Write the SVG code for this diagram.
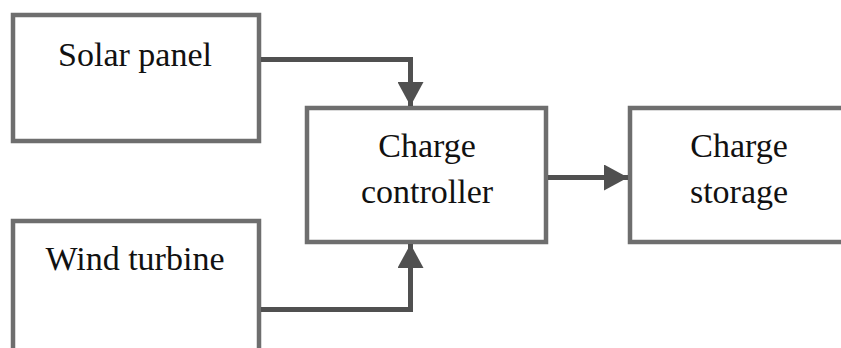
<svg xmlns="http://www.w3.org/2000/svg" width="841" height="348" viewBox="0 0 841 348">
<style>
.box{fill:#fff;stroke:#6e6e6e;stroke-width:4.5}
.lbl{font-family:"Liberation Serif","Times New Roman",serif;font-size:34px;fill:#111;text-anchor:middle}
.wire{fill:none;stroke:#505050;stroke-width:5}
</style>
<defs>
<marker id="ah" markerUnits="userSpaceOnUse" markerWidth="26" markerHeight="26" viewBox="0 0 26 26" refX="24" refY="13" orient="auto">
<path d="M0,0 L24,13 L0,26 Z" fill="#505050"/>
</marker>
</defs>
<rect width="841" height="348" fill="#fff"/>
<g id="solar">
<rect class="box" x="13" y="15" width="246" height="126"/>
<text class="lbl" x="135" y="66">Solar panel</text>
</g>
<g id="wind">
<rect class="box" x="13" y="221" width="246" height="140"/>
<text class="lbl" x="135" y="270">Wind turbine</text>
</g>
<g id="controller">
<rect class="box" x="307" y="108" width="239" height="134"/>
<text class="lbl" x="427" y="157">Charge</text>
<text class="lbl" x="427" y="203">controller</text>
</g>
<g id="storage">
<rect class="box" x="630" y="108" width="230" height="134"/>
<text class="lbl" x="739" y="157">Charge</text>
<text class="lbl" x="739" y="203">storage</text>
</g>
<g id="connectors">
<path class="wire" d="M261,59.5 H410.5 V106" marker-end="url(#ah)"/>
<path class="wire" d="M261,309.5 H410.5 V244" marker-end="url(#ah)"/>
<path class="wire" d="M548,177.5 H628" marker-end="url(#ah)"/>
</g>
</svg>
